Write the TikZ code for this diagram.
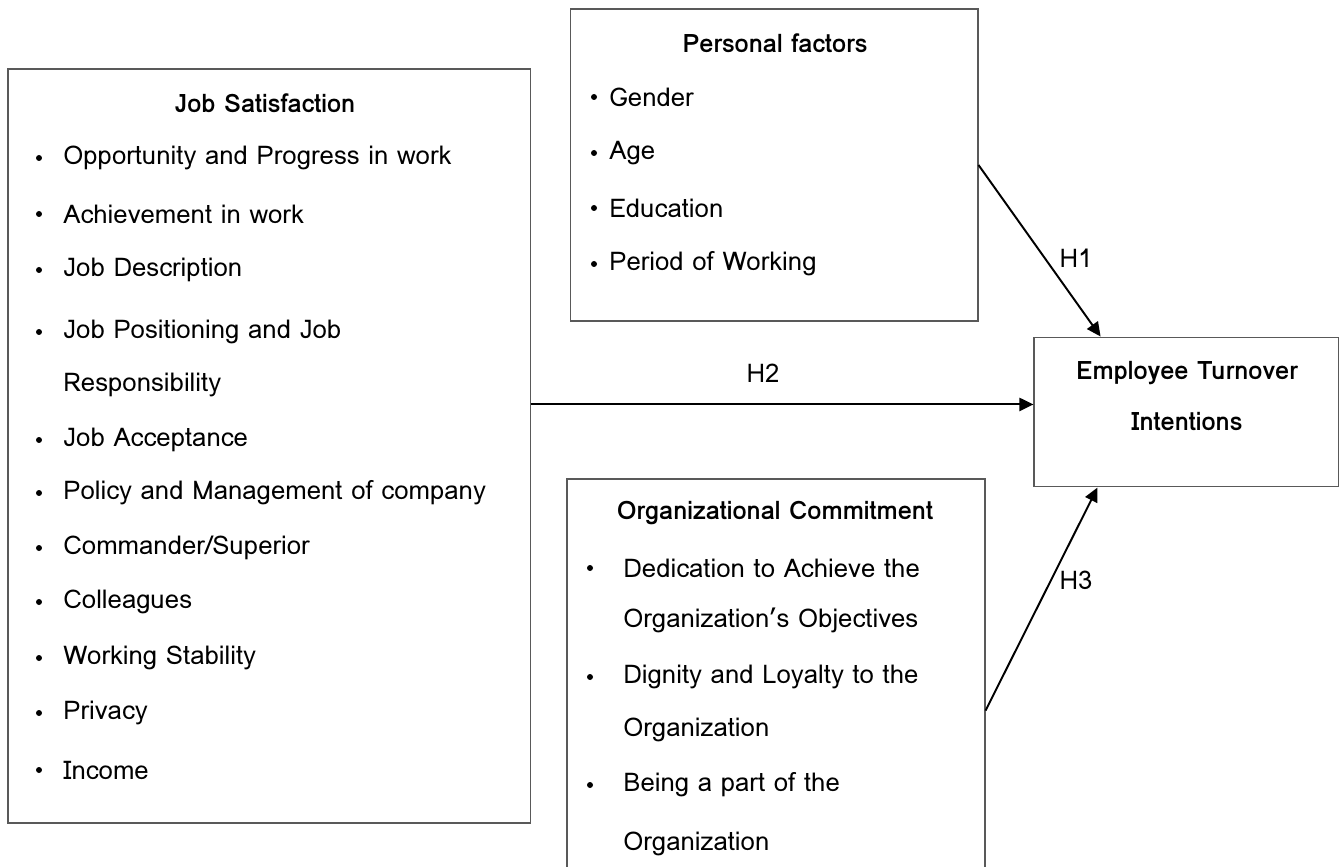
\documentclass[tikz,border=0pt]{standalone}
\usepackage{fontspec}
\setmainfont{Loma}
\usetikzlibrary{calc}
\usetikzlibrary{arrows.meta}
\tikzset{box/.style = {draw, semithick, draw = black!65, inner sep = 0}}
\tikzset{head/.style = {font = \bfseries\fontsize{14.4}{16}\selectfont}}
\tikzset{item/.style = {anchor = west, inner sep = 0, font = \fontsize{14.6}{16}\selectfont}}
\tikzset{dot/.style = {fill, circle, inner sep = 0, minimum size = 3.4pt}}
\tikzset{link/.style = {line width = 1.1pt, -{Triangle[length = 8pt, width = 7.5pt]}}}
\tikzset{hyp/.style = {font = \fontsize{14.6}{16}\selectfont}}

\begin{document}
\begin{tikzpicture}[x = 0.567pt, y = -0.567pt]
    \useasboundingbox (0, 0) rectangle (1344, 867);

    \node [box, minimum width = 296pt, minimum height = 427.5pt] (js) at (269, 446) {};
    \node [head] (jstitle) at (265, 103) {Job Satisfaction};
    \node [dot] (jsd1) at (39, 158) {};
    \node [item] (js1) at (63, 158) {Opportunity and Progress in work};
    \node [dot] (jsd2) at (39, 214) {};
    \node [item] (js2) at (63, 214) {Achievement in work};
    \node [dot] (jsd3) at (39, 270) {};
    \node [item] (js3) at (63, 270) {Job Description};
    \node [dot] (jsd4) at (39, 332) {};
    \node [item] (js4) at (63, 332) {Job Positioning and Job};
    \node [item] (js4b) at (63, 385) {Responsibility};
    \node [dot] (jsd5) at (39, 440) {};
    \node [item] (js5) at (63, 440) {Job Acceptance};
    \node [dot] (jsd6) at (39, 493) {};
    \node [item] (js6) at (63, 493) {Policy and Management of company};
    \node [dot] (jsd7) at (39, 548) {};
    \node [item] (js7) at (63, 548) {Commander/Superior};
    \node [dot] (jsd8) at (39, 602) {};
    \node [item] (js8) at (63, 602) {Colleagues};
    \node [dot] (jsd9) at (39, 658) {};
    \node [item] (js9) at (63, 658) {Working Stability};
    \node [dot] (jsd10) at (39, 713) {};
    \node [item] (js10) at (63, 713) {Privacy};
    \node [dot] (jsd11) at (39, 770) {};
    \node [item] (js11) at (63, 770) {Income};

    \node [box, minimum width = 231.3pt, minimum height = 176.9pt] (pers) at (774, 165) {};
    \node [head] (perstitle) at (775, 43) {Personal factors};
    \node [dot] (persd1) at (594, 97) {};
    \node [item] (pers1) at (609, 97) {Gender};
    \node [dot] (persd2) at (594, 153) {};
    \node [item] (pers2) at (609, 153) {Age};
    \node [dot] (persd3) at (594, 208) {};
    \node [item] (pers3) at (609, 208) {Education};
    \node [dot] (persd4) at (594, 264) {};
    \node [item] (pers4) at (609, 264) {Period of Working};

    \node [box, minimum width = 172.4pt, minimum height = 85pt] (emp) at (1186, 412) {};
    \node [head] (emp1) at (1187, 373) {Employee Turnover};
    \node [head] (emp2) at (1187, 421) {Intentions};

    \node [box, minimum width = 237pt, minimum height = 238.7pt] (org) at (776, 689.5) {};
    \node [head] (orgtitle) at (775, 513) {Organizational Commitment};
    \node [dot] (orgd1) at (590, 568) {};
    \node [item] (org1) at (623, 568) {Dedication to Achieve the};
    \node [item] (org1b) at (623, 620) {Organization’s Objectives};
    \node [dot] (orgd2) at (590, 677) {};
    \node [item] (org2) at (623, 677) {Dignity and Loyalty to the};
    \node [item] (org2b) at (623, 730) {Organization};
    \node [dot] (orgd3) at (590, 785) {};
    \node [item] (org3) at (623, 785) {Being a part of the};
    \node [item] (org3b) at (623, 844) {Organization};

    \coordinate (h2end) at ($(emp.north west)!0.45!(emp.south west)$);
    \draw [link] (pers.east) -- ($(emp.north west)!0.22!(emp.north east)$);
    \draw [link] (h2end -| js.east) -- (h2end);
    \draw [link] ($(org.north east)!0.55!(org.south east)$) -- ($(emp.south west)!0.21!(emp.south east)$);
    \node [hyp] (h1) at (1076, 258) {H1};
    \node [hyp] (h2) at (763, 373) {H2};
    \node [hyp] (h3) at (1076, 580) {H3};
  \end{tikzpicture}
\end{document}
